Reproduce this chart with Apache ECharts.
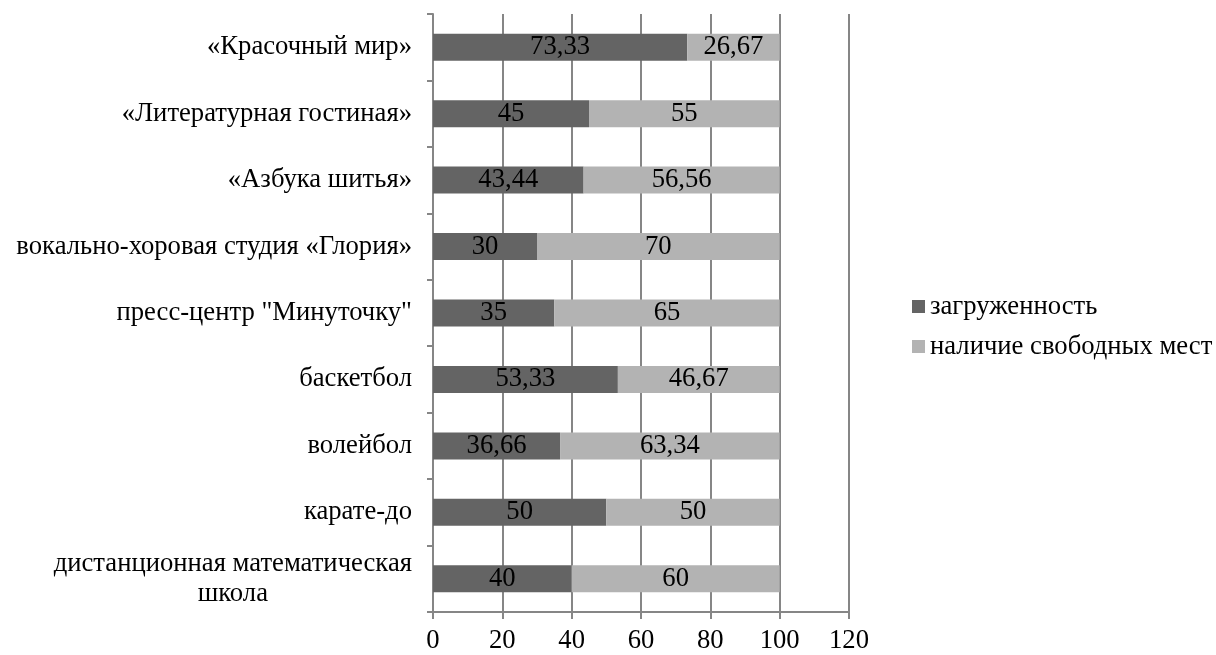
<!DOCTYPE html>
<html>
<head>
<meta charset="utf-8">
<script src="https://cdn.jsdelivr.net/npm/echarts@6/dist/echarts.min.js"></script>
<style>
html,body{margin:0;padding:0;background:#fff;}
#chart{width:1216px;height:655px;}
</style>
</head>
<body>
<div id="chart"></div>
<script>
var categories = [
  "«Красочный мир»",
  "«Литературная гостиная»",
  "«Азбука шитья»",
  "вокально-хоровая студия «Глория»",
  "пресс-центр \"Минуточку\"",
  "баскетбол",
  "волейбол",
  "карате-до",
  "дистанционная математическая\nшкола"
];
var seriesNames = ["загруженность", "наличие свободных мест"];
var loadValues = [73.33, 45, 43.44, 30, 35, 53.33, 36.66, 50, 40];
var freeValues = [26.67, 55, 56.56, 70, 65, 46.67, 63.34, 50, 60];
var xTicks = [0, 20, 40, 60, 80, 100, 120];

var FONT = '"Liberation Serif", "Times New Roman", serif';
var FS = 26.67;

var cv = document.createElement('canvas').getContext('2d');
cv.font = FS + 'px ' + FONT;

function fmt(v){ return String(v).replace('.', ','); }

var chart = echarts.init(document.getElementById('chart'));
var option = {
  backgroundColor: '#fff',
  animation: false,
  grid: { left: 433, right: 367, top: 14, bottom: 43, containLabel: false },
  legend: {
    orient: 'vertical',
    left: 912,
    top: 293,
    itemWidth: 13,
    itemHeight: 13,
    itemGap: 13,
    icon: 'rect',
    padding: 0,
    textStyle: { fontFamily: FONT, fontSize: FS, color: '#000' },
    data: seriesNames
  },
  xAxis: {
    type: 'value',
    min: xTicks[0],
    max: xTicks[xTicks.length - 1],
    interval: 20,
    axisLine: { show: true, lineStyle: { color: '#868686', width: 2 } },
    axisTick: { show: true, length: 7, lineStyle: { color: '#868686', width: 2 } },
    axisLabel: { fontFamily: FONT, fontSize: FS, color: '#000', margin: 15 },
    splitLine: { show: true, lineStyle: { color: '#868686', width: 2 } }
  },
  yAxis: {
    type: 'category',
    inverse: true,
    data: categories,
    axisLine: { show: true, lineStyle: { color: '#868686', width: 2 } },
    axisTick: { show: true, inside: false, length: 6, alignWithLabel: false, lineStyle: { color: '#868686', width: 2 } },
    axisLabel: {
      fontFamily: FONT, fontSize: FS, color: '#000', margin: 21, lineHeight: 30,
      formatter: function (v) {
        if (v.indexOf('\n') >= 0) {
          var parts = v.split('\n');
          return '{a|' + parts[0] + '}\n{b|' + parts[1] + '}';
        }
        return v;
      },
      rich: {
        a: { fontFamily: FONT, fontSize: FS, color: '#000', lineHeight: 30 },
        b: { fontFamily: FONT, fontSize: FS, color: '#000', lineHeight: 30, align: 'center',
             width: Math.round(cv.measureText('дистанционная математическая').width) }
      }
    },
    splitLine: { show: false }
  },
  series: [
    {
      name: seriesNames[0], type: 'bar', stack: 'total', barWidth: 27,
      data: loadValues,
      itemStyle: { color: '#646464' },
      label: { show: true, position: 'inside', fontFamily: FONT, fontSize: FS, color: '#000',
               formatter: function (p) { return fmt(p.value); } }
    },
    {
      name: seriesNames[1], type: 'bar', stack: 'total', barWidth: 27,
      data: freeValues,
      itemStyle: { color: '#b3b3b3' },
      label: { show: true, position: 'inside', fontFamily: FONT, fontSize: FS, color: '#000',
               formatter: function (p) { return fmt(p.value); } }
    }
  ]
};
chart.setOption(option);
</script>
</body>
</html>
